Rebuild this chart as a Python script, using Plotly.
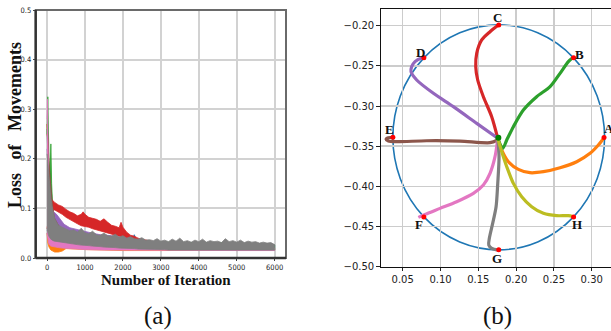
import plotly.graph_objects as go

# ---------------- (a) loss of movements ----------------
blue_x = [0, 20, 50, 100, 200, 500, 1000, 2000, 2250, 2300, 2350, 3000, 6000]
blue_hi = [0.26, 0.2, 0.12, 0.07, 0.06, 0.048, 0.043, 0.037, 0.038, 0.047, 0.037, 0.030, 0.026]
blue_lo = [0.055, 0.055, 0.05, 0.045, 0.035, 0.028, 0.024, 0.02, 0.019, 0.019, 0.019, 0.017, 0.016]

orange_x = [0, 20, 50, 100, 200, 300, 400, 500, 1000, 2000, 3000, 6000]
orange_hi = [0.27, 0.2, 0.1, 0.06, 0.045, 0.04, 0.036, 0.034, 0.029, 0.025, 0.022, 0.020]
orange_lo = [0.05, 0.03, 0.022, 0.016, 0.012, 0.012, 0.014, 0.019, 0.017, 0.015, 0.015, 0.016]

green_x = [0, 10, 20, 30, 50, 80, 100, 120, 150, 200, 300, 500, 1000, 2000, 3000, 4000, 5000, 6000]
green_hi = [0.25, 0.30, 0.325, 0.28, 0.20, 0.17, 0.23, 0.15, 0.10, 0.075, 0.062, 0.053, 0.046, 0.038, 0.032, 0.031, 0.030, 0.026]
green_lo = [0.06, 0.06, 0.06, 0.06, 0.055, 0.05, 0.05, 0.045, 0.04, 0.036, 0.032, 0.028, 0.024, 0.02, 0.017, 0.016, 0.016, 0.016]

red_x = [0, 20, 40, 60, 80, 100, 150, 200, 300, 400, 500, 600, 700, 800, 900,
         950, 1000, 1100, 1200, 1300, 1400, 1500, 1600, 1700, 1800, 1900,
         1950, 2000, 2100, 2200, 2300, 2400, 2500, 2600, 2800, 3000]
red_hi = [0.25, 0.24, 0.20, 0.16, 0.13, 0.12, 0.115, 0.112, 0.107, 0.104, 0.098, 0.093, 0.090, 0.085, 0.088,
          0.093, 0.088, 0.082, 0.080, 0.078, 0.074, 0.079, 0.072, 0.066, 0.064, 0.061,
          0.072, 0.062, 0.052, 0.046, 0.044, 0.040, 0.038, 0.036, 0.033, 0.030]
red_lo = [0.06, 0.07, 0.08, 0.085, 0.09, 0.093, 0.095, 0.097, 0.093, 0.088, 0.082, 0.078, 0.073, 0.069, 0.065,
          0.064, 0.063, 0.062, 0.059, 0.057, 0.055, 0.052, 0.050, 0.048, 0.046, 0.044,
          0.043, 0.041, 0.037, 0.034, 0.031, 0.029, 0.027, 0.025, 0.023, 0.022]

purple_x = [0, 50, 100, 150, 250, 350, 450, 600, 800, 1000, 1200, 1400, 1700, 2000, 2300, 2600, 3000]
purple_hi = [0.22, 0.15, 0.11, 0.095, 0.088, 0.078, 0.068, 0.061, 0.057, 0.053, 0.050, 0.047, 0.045, 0.041, 0.037, 0.033, 0.029]
purple_lo = [0.05, 0.045, 0.045, 0.045, 0.043, 0.040, 0.037, 0.034, 0.031, 0.028, 0.026, 0.024, 0.022, 0.020, 0.019, 0.018, 0.017]

brown_x = [0, 20, 50, 100, 150, 200, 300, 400, 500, 700, 1000, 1500, 2000, 3000]
brown_hi = [0.27, 0.25, 0.19, 0.14, 0.10, 0.08, 0.066, 0.058, 0.052, 0.046, 0.040, 0.035, 0.032, 0.028]
brown_lo = [0.06, 0.06, 0.055, 0.05, 0.045, 0.04, 0.035, 0.032, 0.03, 0.027, 0.024, 0.021, 0.019, 0.017]

pink_x = [0, 5, 10, 15, 20, 30, 40, 50, 60, 80, 100, 150, 200, 300, 400, 500, 700,
          1000, 1500, 2000, 2500, 3000, 4000, 5000, 6000]
pink_hi = [0.28, 0.31, 0.32, 0.30, 0.25, 0.18, 0.12, 0.08, 0.065, 0.060, 0.058, 0.055, 0.052, 0.045, 0.040, 0.037, 0.033,
           0.030, 0.028, 0.026, 0.024, 0.023, 0.022, 0.022, 0.020]
pink_lo = [0.05, 0.05, 0.05, 0.045, 0.04, 0.035, 0.03, 0.028, 0.026, 0.025, 0.024, 0.023, 0.022, 0.021, 0.020, 0.019, 0.018,
           0.017, 0.016, 0.015, 0.015, 0.015, 0.015, 0.015, 0.015]

gray_x = [0, 10, 25, 40, 60, 80, 100, 130, 160, 200, 250, 300,
          400, 500, 600, 700, 800, 900, 1000, 1100, 1200, 1300,
          1400, 1500, 1600, 1700, 1800, 1900, 2000, 2100, 2200, 2300,
          2400, 2500, 2600, 2700, 2800, 2900, 3000, 3100, 3200, 3300,
          3400, 3500, 3600, 3700, 3800, 3900, 4000, 4100, 4200, 4300,
          4400, 4500, 4600, 4700, 4800, 4900, 5000, 5100, 5200, 5300,
          5400, 5500, 5600, 5700, 5800, 5900, 6000]
gray_hi = [0.21, 0.20, 0.19, 0.17, 0.15, 0.135, 0.12, 0.105, 0.09, 0.08, 0.072, 0.066,
           0.062, 0.058, 0.055, 0.057, 0.052, 0.060, 0.051, 0.049, 0.054, 0.047,
           0.046, 0.050, 0.045, 0.044, 0.048, 0.042, 0.045, 0.040, 0.043, 0.039,
           0.038, 0.041, 0.036, 0.037, 0.035, 0.039, 0.034, 0.036, 0.033, 0.038,
           0.034, 0.040, 0.033, 0.035, 0.032, 0.036, 0.033, 0.038, 0.032, 0.035,
           0.033, 0.034, 0.031, 0.039, 0.033, 0.035, 0.032, 0.036, 0.031, 0.034,
           0.032, 0.033, 0.030, 0.032, 0.030, 0.031, 0.027]
gray_lo = [0.06, 0.055, 0.05, 0.045, 0.042, 0.04, 0.038, 0.036, 0.035, 0.034, 0.033, 0.032,
           0.031, 0.030, 0.029, 0.028, 0.027, 0.026, 0.025, 0.025, 0.024, 0.023,
           0.023, 0.022, 0.022, 0.021, 0.021, 0.020, 0.020, 0.020, 0.019, 0.019,
           0.018, 0.018, 0.018, 0.017, 0.017, 0.017, 0.017, 0.017, 0.016, 0.016,
           0.016, 0.016, 0.016, 0.016, 0.016, 0.016, 0.016, 0.016, 0.016, 0.016,
           0.016, 0.015, 0.016, 0.016, 0.015, 0.016, 0.016, 0.015, 0.016, 0.016,
           0.015, 0.016, 0.015, 0.016, 0.015, 0.016, 0.016]

loss_series = [
    ("#1f77b4", blue_x, blue_hi, blue_lo),
    ("#ff7f0e", orange_x, orange_hi, orange_lo),
    ("#2ca02c", green_x, green_hi, green_lo),
    ("#d62728", red_x, red_hi, red_lo),
    ("#9467bd", purple_x, purple_hi, purple_lo),
    ("#8c564b", brown_x, brown_hi, brown_lo),
    ("#e377c2", pink_x, pink_hi, pink_lo),
    ("#7f7f7f", gray_x, gray_hi, gray_lo),
]

loss_xticks = [0, 1000, 2000, 3000, 4000, 5000, 6000]
loss_yticks = [0.0, 0.1, 0.2, 0.3, 0.4, 0.5]

# ---------------- (b) trajectories ----------------
circle_cx, circle_cy, circle_r = 0.177, -0.339, 0.14

pt_x = [0.3163, 0.276, 0.177, 0.078, 0.037, 0.078, 0.177, 0.276]
pt_y = [-0.3393, -0.240, -0.199, -0.240, -0.339, -0.438, -0.479, -0.438]
center_x = [0.1765]
center_y = [-0.3395]

label_names = ["A", "B", "C", "D", "E", "F", "G", "H"]
label_x = [0.3230, 0.2837, 0.1752, 0.0729, 0.0319, 0.0716, 0.1743, 0.2802]
label_y = [-0.3280, -0.2357, -0.1896, -0.2336, -0.3286, -0.4473, -0.4896, -0.4473]

path_A_x = [0.1757, 0.1810, 0.1898, 0.2030, 0.2184, 0.2361, 0.2581, 0.2802, 0.2978, 0.3088, 0.3163]
path_A_y = [-0.3402, -0.3548, -0.3693, -0.3788, -0.3830, -0.3817, -0.3768, -0.3693, -0.3589, -0.3485, -0.3394]
path_B_x = [0.1757, 0.1823, 0.1876, 0.1964, 0.2096, 0.2272, 0.2449, 0.2581, 0.2691, 0.2757]
path_B_y = [-0.3402, -0.3527, -0.3423, -0.3257, -0.3050, -0.2884, -0.2759, -0.2593, -0.2448, -0.2394]
path_C_x = [0.1757, 0.1677, 0.1567, 0.1492, 0.1466, 0.1479, 0.1545, 0.1655, 0.1765]
path_C_y = [-0.3402, -0.3133, -0.2884, -0.2676, -0.2510, -0.2344, -0.2178, -0.2075, -0.1992]
path_D_x = [0.1757, 0.1479, 0.1170, 0.0906, 0.0685, 0.0610, 0.0619, 0.0663, 0.0751, 0.0795]
path_D_y = [-0.3402, -0.3216, -0.3008, -0.2842, -0.2676, -0.2573, -0.2510, -0.2448, -0.2402, -0.2394]
path_E_x = [0.1757, 0.1655, 0.1258, 0.0817, 0.0421, 0.0310, 0.0280, 0.0310, 0.0385]
path_E_y = [-0.3423, -0.3456, -0.3436, -0.3432, -0.3444, -0.3436, -0.3415, -0.3394, -0.3394]
path_F_x = [0.1757, 0.1721, 0.1655, 0.1567, 0.1435, 0.1214, 0.0994, 0.0795, 0.0707]
path_F_y = [-0.3402, -0.3631, -0.3838, -0.3983, -0.4087, -0.4191, -0.4274, -0.4349, -0.4386]
path_G_x = [0.1757, 0.1774, 0.1757, 0.1735, 0.1690, 0.1646, 0.1638, 0.1677, 0.1765]
path_G_y = [-0.3402, -0.3631, -0.3963, -0.4253, -0.4461, -0.4647, -0.4730, -0.4772, -0.4793]
path_H_x = [0.1757, 0.1810, 0.1876, 0.1964, 0.2074, 0.2206, 0.2361, 0.2537, 0.2691, 0.2757]
path_H_y = [-0.3402, -0.3568, -0.3755, -0.3963, -0.4129, -0.4253, -0.4336, -0.4365, -0.4365, -0.4378]

paths = [
    ("#ff7f0e", path_A_x, path_A_y),
    ("#2ca02c", path_B_x, path_B_y),
    ("#d62728", path_C_x, path_C_y),
    ("#9467bd", path_D_x, path_D_y),
    ("#8c564b", path_E_x, path_E_y),
    ("#e377c2", path_F_x, path_F_y),
    ("#7f7f7f", path_G_x, path_G_y),
    ("#bcbd22", path_H_x, path_H_y),
]

traj_xticks = [0.05, 0.10, 0.15, 0.20, 0.25, 0.30]
traj_yticks = [-0.50, -0.45, -0.40, -0.35, -0.30, -0.25, -0.20]

# ---------------- figure ----------------
W, H = 611, 331
SERIF = "Liberation Serif, Times New Roman, serif"
fig = go.Figure()

for color, xs, hi, lo in loss_series:
    fig.add_trace(go.Scatter(
        x=list(xs) + list(xs)[::-1], y=list(hi) + list(lo)[::-1],
        fill="toself", fillcolor=color, mode="lines",
        line=dict(color=color, width=0.8), xaxis="x", yaxis="y",
        hoverinfo="skip", showlegend=False))

for color, xs, ys in paths:
    fig.add_trace(go.Scatter(x=xs, y=ys, mode="lines",
                             line=dict(color=color, width=3.2, shape="spline", smoothing=0.8),
                             xaxis="x2", yaxis="y2", showlegend=False))

fig.add_trace(go.Scatter(x=pt_x, y=pt_y, mode="markers",
                         marker=dict(color="#ff0000", size=5),
                         xaxis="x2", yaxis="y2", showlegend=False))
fig.add_trace(go.Scatter(x=center_x, y=center_y, mode="markers",
                         marker=dict(color="#008000", size=6),
                         xaxis="x2", yaxis="y2", showlegend=False))

shapes = [
    dict(type="circle", xref="x2", yref="y2",
         x0=circle_cx - circle_r, x1=circle_cx + circle_r,
         y0=circle_cy - circle_r, y1=circle_cy + circle_r,
         line=dict(color="#1f77b4", width=1.6), layer="below"),
    dict(type="rect", xref="x domain", yref="y domain", x0=0, x1=1, y0=0, y1=1,
         line=dict(color="#6a6a6a", width=2), layer="above"),
    dict(type="line", xref="x domain", yref="y domain", x0=0, x1=0, y0=0, y1=1,
         line=dict(color="#333333", width=2.4), layer="above"),
    dict(type="line", xref="x domain", yref="y domain", x0=0, x1=1, y0=0, y1=0,
         line=dict(color="#333333", width=2.4), layer="above"),
]

annotations = []
for name, lx, ly in zip(label_names, label_x, label_y):
    annotations.append(dict(x=lx, y=ly, xref="x2", yref="y2", text="<b>%s</b>" % name,
                            xanchor="center", yanchor="middle", showarrow=False,
                            font=dict(family=SERIF, size=13, color="#111111")))

annotations += [
    dict(x=15 / W, y=1 - 125 / H, xref="paper", yref="paper", textangle=-90,
         xanchor="center", yanchor="middle",
         text="<b>Loss\u00a0\u00a0\u00a0of\u00a0\u00a0\u00a0Movements</b>", showarrow=False,
         font=dict(family=SERIF, size=18, color="#111111")),
    dict(x=166 / W, y=1 - 280 / H, xref="paper", yref="paper",
         xanchor="center", yanchor="middle",
         text="<b>Number of Iteration</b>", showarrow=False,
         font=dict(family=SERIF, size=15, color="#111111")),
    dict(x=158 / W, y=1 - 316 / H, xref="paper", yref="paper", text="(a)", showarrow=False,
         xanchor="center", yanchor="middle",
         font=dict(family=SERIF, size=25, color="#111111")),
    dict(x=497 / W, y=1 - 316 / H, xref="paper", yref="paper", text="(b)", showarrow=False,
         xanchor="center", yanchor="middle",
         font=dict(family=SERIF, size=25, color="#111111")),
]

small_font = dict(family="Liberation Sans Narrow, DejaVu Sans Condensed, Arial Narrow, sans-serif",
                  size=7.5, color="#222222")
tick_font = dict(family="DejaVu Sans, sans-serif", size=10, color="#222222")

fig.update_layout(
    width=W, height=H, margin=dict(l=0, r=0, t=0, b=0, pad=0),
    paper_bgcolor="white", plot_bgcolor="white",
    shapes=shapes, annotations=annotations, showlegend=False,
    xaxis=dict(domain=[35.7 / W, 286 / W], range=[-300, 6300],
               tickvals=loss_xticks, ticktext=[str(v) for v in loss_xticks],
               showgrid=True, gridcolor="#d2d2d2", gridwidth=2, zeroline=False,
               ticks="outside", ticklen=2, tickcolor="#444", tickfont=small_font,
               showline=False, anchor="y", automargin=False),
    yaxis=dict(domain=[1 - 258 / H, 1 - 10 / H], range=[0, 0.5],
               tickvals=loss_yticks, ticktext=["%.1f" % v for v in loss_yticks],
               showgrid=True, gridcolor="#d2d2d2", gridwidth=2, zeroline=False,
               ticks="outside", ticklen=2, tickcolor="#444", tickfont=small_font,
               showline=False, anchor="x", automargin=False),
    xaxis2=dict(domain=[380.7 / W, 1.0], range=[0.0209, 0.3255],
                tickvals=traj_xticks, ticktext=["%.2f" % v for v in traj_xticks],
                showgrid=True, gridcolor="#cccccc", gridwidth=1.5, zeroline=False,
                ticks="outside", ticklen=3.5, tickcolor="#222", tickfont=tick_font,
                showline=True, linecolor="#111111", linewidth=1, mirror=True, anchor="y2",
                automargin=False),
    yaxis2=dict(domain=[1 - 266.7 / H, 1 - 9.3 / H], range=[-0.50, -0.1796],
                tickvals=traj_yticks, ticktext=[("%.2f" % v).replace("-", "\u2212") for v in traj_yticks],
                showgrid=True, gridcolor="#cccccc", gridwidth=1.5, zeroline=False,
                ticks="outside", ticklen=3.5, tickcolor="#222", tickfont=tick_font,
                showline=True, linecolor="#111111", linewidth=1, mirror=True, anchor="x2",
                automargin=False),
)

fig.write_html("out.html", config={"displayModeBar": False, "staticPlot": True},
               post_script="document.body.style.margin='0px';document.body.style.overflow='hidden';")
